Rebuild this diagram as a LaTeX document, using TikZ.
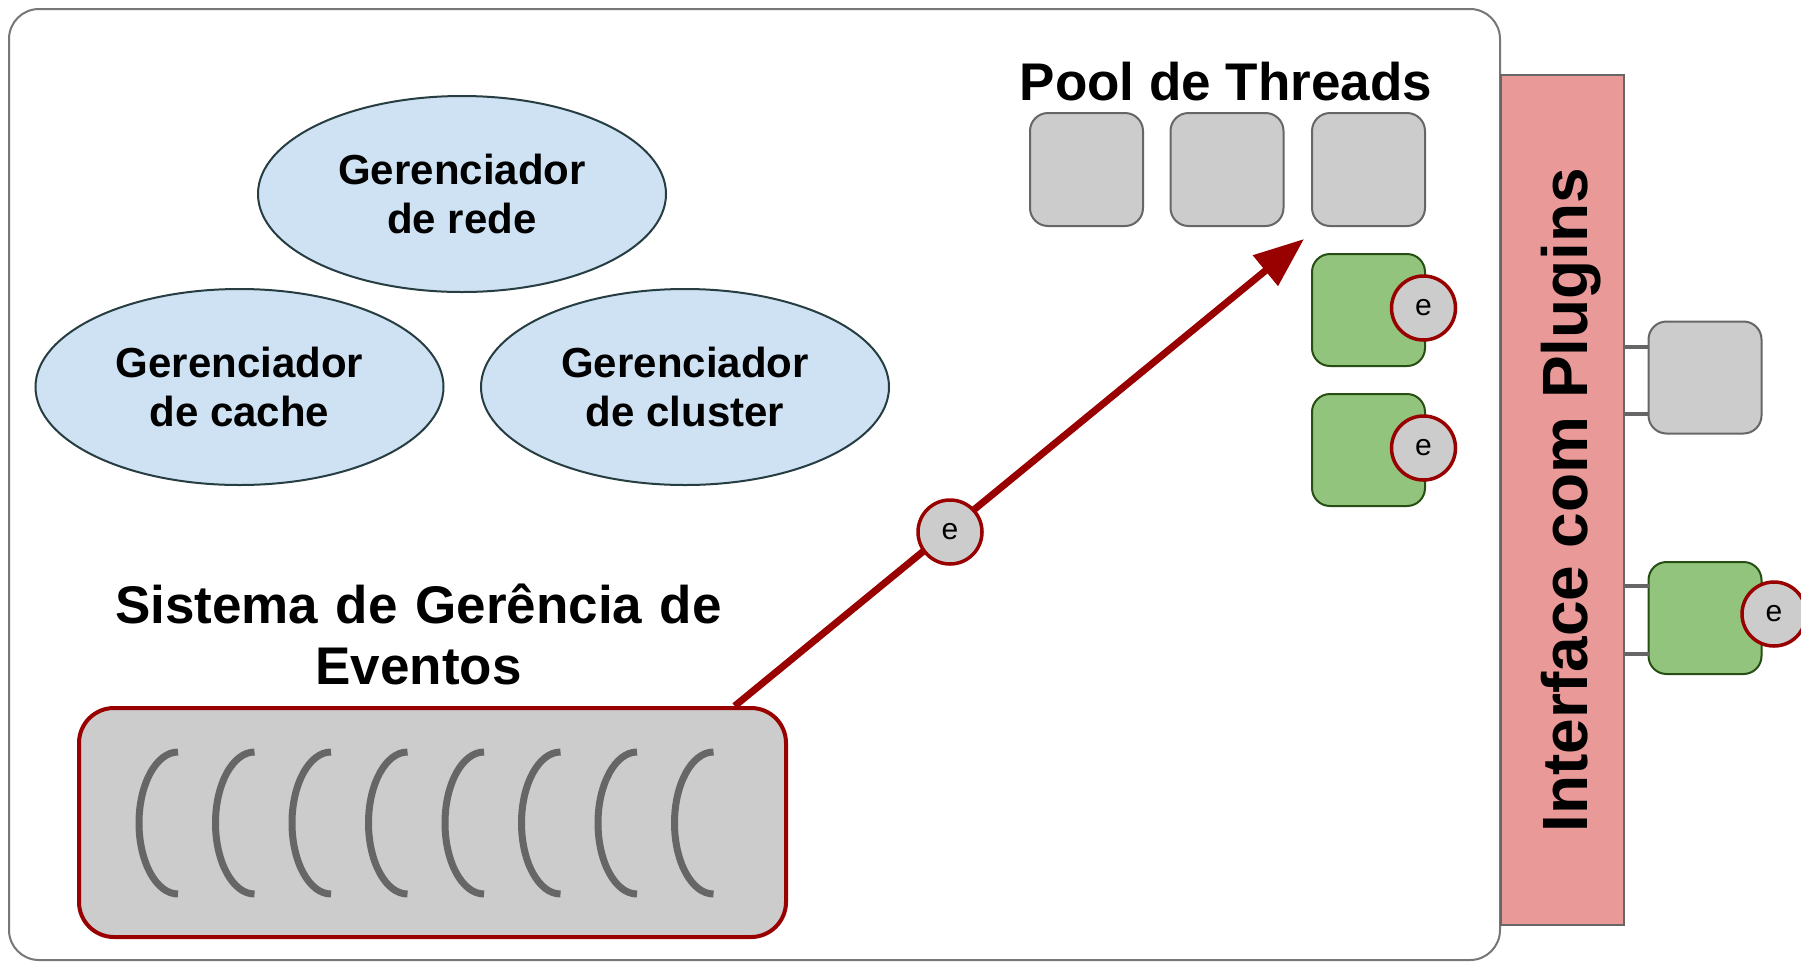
\documentclass[tikz,border=0pt]{standalone}
\usepackage{fontspec}
\setmainfont{Liberation Sans}
\usetikzlibrary{shapes.geometric,arrows.meta,calc}
\definecolor{boxgray}{HTML}{CCCCCC}
\definecolor{linegray}{HTML}{666666}
\definecolor{framegray}{HTML}{777777}
\definecolor{darkred}{HTML}{990000}
\definecolor{pinkbar}{HTML}{EA9999}
\definecolor{greenfill}{HTML}{93C47D}
\definecolor{greenline}{HTML}{274E13}
\definecolor{bluefill}{HTML}{CFE2F3}
\definecolor{blueline}{HTML}{263D42}
\begin{document}
\begin{tikzpicture}[x=1pt,y=-1pt,
  frame/.style={draw=framegray,line width=2pt,rounded corners=30pt,minimum width=1491pt,minimum height=951pt,inner sep=0pt},
  ifacebar/.style={draw=linegray,fill=pinkbar,line width=2pt,rotate=90,minimum width=850pt,minimum height=123pt,inner sep=0pt,
    font=\bfseries\fontsize{64pt}{70pt}\selectfont,text height=50pt,text depth=0pt},
  mgr/.style={ellipse,draw=blueline,fill=bluefill,line width=2pt,minimum width=408pt,minimum height=196pt,inner sep=0pt,
    align=center,font=\bfseries\fontsize{42pt}{49pt}\selectfont},
  threadbox/.style={draw=linegray,fill=boxgray,line width=2pt,rounded corners=18pt,minimum width=113pt,minimum height=113pt,inner sep=0pt},
  greenbox/.style={draw=greenline,fill=greenfill,line width=2pt,rounded corners=18pt,minimum width=113pt,minimum height=112pt,inner sep=0pt},
  evt/.style={circle,draw=darkred,fill=boxgray,line width=3.5pt,minimum size=64pt,inner sep=0pt,font=\fontsize{30pt}{32pt}\selectfont},
  queuebox/.style={draw=darkred,fill=boxgray,line width=4pt,rounded corners=35pt,minimum width=707pt,minimum height=229pt,inner sep=0pt},
  bracket/.style={draw=linegray,line width=7pt},
  conn/.style={draw=linegray,line width=3.5pt},
  flow/.style={draw=darkred,line width=7pt,-{Triangle[length=50pt,width=38pt]}},
  bigtitle/.style={font=\bfseries\fontsize{53pt}{61pt}\selectfont}
]
\useasboundingbox (0,0) rectangle (1801,962);
\fill[white] (0,0) rectangle (1801,962);

% main frame and interface bar
\node[frame] (main) at (754.5,484.5) {};
\node[ifacebar] (iface) at (1562.5,500) {Interface com Plugins};

% managers
\node[mgr] (rede) at (462,194) {Gerenciador\\de rede};
\node[mgr] (cache) at (239.5,387) {Gerenciador\\de cache};
\node[mgr] (cluster) at (685,387) {Gerenciador\\de cluster};

% thread pool
\node[bigtitle,anchor=base] (pooltitle) at (1226,100) {Pool de Threads};
\node[threadbox] (t1) at (1086.5,169.5) {};
\node[threadbox] (t2) at (1227,169.5) {};
\node[threadbox] (t3) at (1368.5,169.5) {};
\node[greenbox] (g1) at (1368.5,310) {};
\node[evt] (g1e) at (1423.5,308) {e};
\node[greenbox] (g2) at (1368.5,450) {};
\node[evt] (g2e) at (1423.5,448) {e};

% plugins
\node[threadbox,minimum height=112pt] (p1) at (1705,377.5) {};
\node[greenbox] (p2) at (1705,618) {};
\node[evt] (p2e) at (1774,614) {e};
\coordinate (p1a) at (1649,347);
\coordinate (p1b) at (1649,414);
\coordinate (p2a) at (1649,586);
\coordinate (p2b) at (1649,654);
\draw[conn] (iface.south |- p1a) -- (p1a);
\draw[conn] (iface.south |- p1b) -- (p1b);
\draw[conn] (iface.south |- p2a) -- (p2a);
\draw[conn] (iface.south |- p2b) -- (p2b);

% event system
\node[bigtitle,anchor=base,text width=700pt,align=center] (evtitle) at (418.5,623) {Sistema de Gerência de\\Eventos};
\node[queuebox] (queue) at (432.5,822.5) {};
\foreach \k in {0,...,7}{
  \draw[bracket] ({178+76.5*\k},752) arc[start angle=90,end angle=270,x radius=39pt,y radius=71pt];
}

% event flow
\coordinate (qout) at ($(queue.north west)!0.925!(queue.north east)$);
\coordinate (tip) at (1304,239);
\draw[flow] (qout) -- (tip);
\node[evt] (fe) at (950,532) {e};
\end{tikzpicture}
\end{document}
